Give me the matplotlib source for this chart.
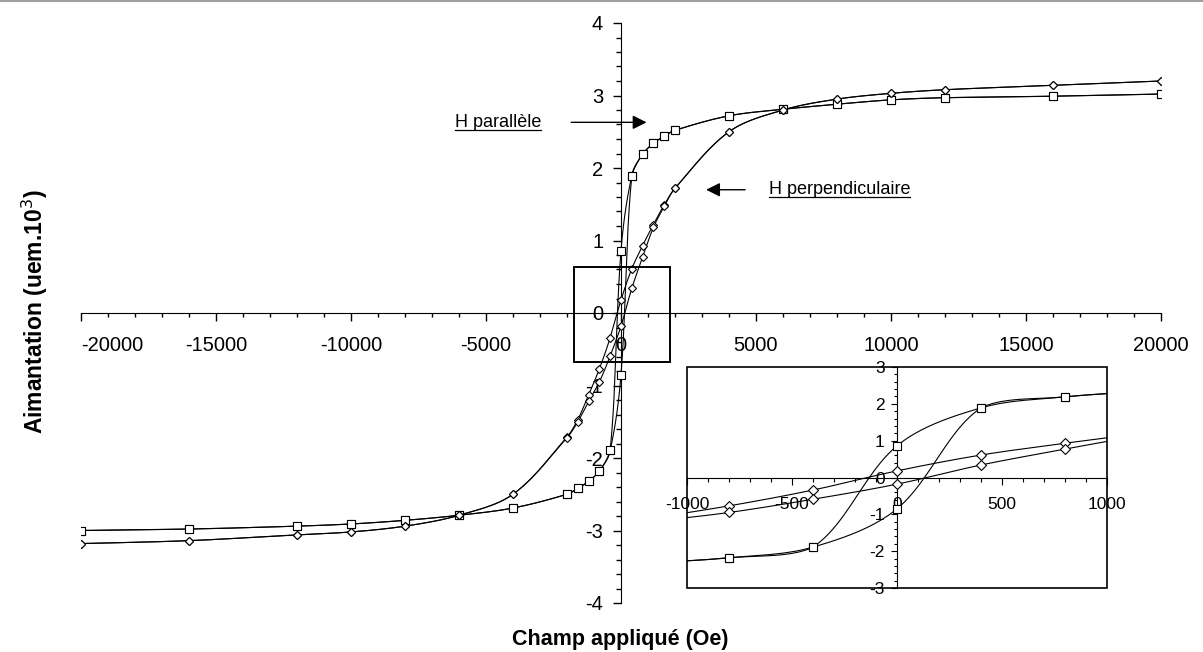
import matplotlib
matplotlib.use("Agg")
import matplotlib.pyplot as plt
from matplotlib.lines import Line2D
from matplotlib.patches import Rectangle
from matplotlib.ticker import MultipleLocator
import numpy as np

# applied field (Oe), descending branch then ascending branch
H_DESC = [20000, 16000, 12000, 10000, 8000, 6000, 4000, 2000, 1600, 1200, 800, 400, 0,
          -400, -800, -1200, -1600, -2000, -4000, -6000, -8000, -10000, -12000, -16000, -20000]
H_ASC = H_DESC[::-1]

# H parallele (squares)
PAR_DESC = [3.02, 2.99, 2.97, 2.94, 2.88, 2.81, 2.72, 2.52, 2.44, 2.34, 2.19, 1.89, 0.86,
            -1.89, -2.18, -2.32, -2.42, -2.50, -2.69, -2.79, -2.86, -2.91, -2.94, -2.98, -3.00]
PAR_ASC = [-3.00, -2.98, -2.94, -2.91, -2.86, -2.79, -2.69, -2.50, -2.42, -2.32, -2.18, -1.89, -0.85,
           1.89, 2.19, 2.34, 2.44, 2.52, 2.72, 2.81, 2.88, 2.94, 2.97, 2.99, 3.02]

# H perpendiculaire (diamonds)
PERP_DESC = [3.20, 3.14, 3.08, 3.03, 2.95, 2.80, 2.50, 1.72, 1.49, 1.22, 0.93, 0.61, 0.18,
             -0.34, -0.77, -1.13, -1.47, -1.71, -2.50, -2.79, -2.94, -3.02, -3.06, -3.14, -3.18]
PERP_ASC = [-3.18, -3.14, -3.06, -3.02, -2.94, -2.79, -2.50, -1.72, -1.50, -1.22, -0.95, -0.59, -0.18,
            0.34, 0.77, 1.18, 1.47, 1.72, 2.50, 2.80, 2.95, 3.03, 3.08, 3.14, 3.20]

MAIN_XTICKS = [-20000, -15000, -10000, -5000, 0, 5000, 10000, 15000, 20000]
INSET_XTICKS = [-1000, -500, 0, 500, 1000]

FONT = "Liberation Sans"
plt.rcParams["font.family"] = [FONT, "DejaVu Sans"]

W, H = 1203, 652


def px_box(left, top, right, bottom):
    return [left / W, 1 - bottom / H, (right - left) / W, (bottom - top) / H]


def excel_smooth(ax, xs, ys, n=24):
    """Bezier smoothing in screen space, tangents weighted by segment length
    and clamped so a segment never overshoots its end points."""
    pts = ax.transData.transform(np.column_stack([xs, ys]))
    npts = len(pts)
    tang = np.zeros_like(pts)
    for i in range(npts):
        p0 = pts[max(i - 1, 0)]
        p2 = pts[min(i + 1, npts - 1)]
        tang[i] = p2 - p0
    out = [pts[0]]
    t = np.linspace(0, 1, n)[1:, None]
    for i in range(npts - 1):
        p1, p2 = pts[i], pts[i + 1]
        d12 = np.hypot(*(p2 - p1))
        d01 = np.hypot(*(p1 - pts[max(i - 1, 0)])) if i > 0 else d12
        d23 = np.hypot(*(pts[min(i + 2, npts - 1)] - p2)) if i + 2 < npts else d12
        c1 = p1 + tang[i] * d12 / (d01 + d12 + 1e-9) / 3
        c2 = p2 - tang[i + 1] * d12 / (d12 + d23 + 1e-9) / 3
        lo, hi = np.minimum(p1, p2), np.maximum(p1, p2)
        c1 = np.clip(c1, lo, hi)
        c2 = np.clip(c2, lo, hi)
        seg = (1 - t) ** 3 * p1 + 3 * (1 - t) ** 2 * t * c1 + 3 * (1 - t) * t ** 2 * c2 + t ** 3 * p2
        out.extend(seg)
    return ax.transData.inverted().transform(np.array(out))


def draw_series(ax, xs, ys, marker, ms):
    curve = excel_smooth(ax, xs, ys)
    ax.plot(curve[:, 0], curve[:, 1], color="black", lw=0.8, zorder=3)
    ax.plot(xs, ys, ls="none", marker=marker, ms=ms, mfc="white", mec="black",
            mew=0.8, zorder=4)


fig = plt.figure(figsize=(W / 100, H / 100), dpi=100)

# ---- main chart ----
ax = fig.add_axes(px_box(81, 23, 1161, 603))
ax.set_xlim(-20000, 20000)
ax.set_ylim(-4, 4)
for side in ["top", "right"]:
    ax.spines[side].set_visible(False)
ax.spines["left"].set_position(("data", 0))
ax.spines["bottom"].set_position(("data", 0))
ax.xaxis.set_minor_locator(MultipleLocator(1000))
ax.yaxis.set_minor_locator(MultipleLocator(0.2))
ax.tick_params(axis="x", which="major", direction="out", length=5.8, width=1, pad=11, labelsize=14.5)
ax.tick_params(axis="x", which="minor", direction="out", length=3.2, width=1)
ax.tick_params(axis="y", which="major", direction="out", length=5.8, width=1, pad=7, labelsize=14.5)
ax.tick_params(axis="y", which="minor", direction="out", length=3.6, width=1)
ax.set_xticks(MAIN_XTICKS)
ax.set_xticklabels([str(v) for v in MAIN_XTICKS])
ax.get_xticklabels()[0].set_horizontalalignment("left")
ax.set_yticks(range(-4, 5))
ax.set_yticklabels([str(v) for v in range(-4, 5)])
ax.set_xlim(-20000, 20000)
ax.set_ylim(-4, 4)
ax.patch.set_alpha(0)

draw_series(ax, H_DESC, PAR_DESC, "s", 5.2)
draw_series(ax, H_ASC, PAR_ASC, "s", 5.2)
draw_series(ax, H_DESC, PERP_DESC, "D", 4.4)
draw_series(ax, H_ASC, PERP_ASC, "D", 4.4)

# zoom box around the origin
ax.add_patch(Rectangle((-1750, -0.68), 3580, 1.32, fill=False, ec="black", lw=1.4, zorder=5))

# annotations
ax.annotate("", xy=(1050, 2.63), xytext=(-1950, 2.63),
            arrowprops=dict(arrowstyle="-|>", color="black", lw=1, mutation_scale=21))
ax.annotate("", xy=(3050, 1.70), xytext=(4700, 1.70),
            arrowprops=dict(arrowstyle="-|>", color="black", lw=1, mutation_scale=21))
t_par = ax.text(-2950, 2.63, "H parallèle", ha="right", va="center", fontsize=13)
t_perp = ax.text(5480, 1.70, "H perpendiculaire", ha="left", va="center", fontsize=13)

fig.text(620 / W, 1 - 640 / H, "Champ appliqué (Oe)", ha="center", va="center",
         fontsize=15.5, fontweight="bold")
fig.text(35 / W, 1 - 312 / H, "Aimantation (uem.10$^{3}$)", ha="center", va="center",
         rotation=90, fontsize=16.5, fontweight="bold")

# ---- inset ----
ins = fig.add_axes(px_box(687, 367, 1107, 588))
ins.set_facecolor("white")
for side in ["top", "right"]:
    ins.spines[side].set_visible(False)
ins.spines["left"].set_position(("data", 0))
ins.spines["bottom"].set_position(("data", 0))
ins.xaxis.set_minor_locator(MultipleLocator(100))
ins.yaxis.set_minor_locator(MultipleLocator(0.2))
ins.tick_params(axis="x", which="major", direction="out", length=5, width=0.8, pad=9, labelsize=12.5)
ins.tick_params(axis="x", which="minor", direction="out", length=3, width=0.8)
ins.tick_params(axis="y", which="major", direction="out", length=4, width=0.8, pad=5, labelsize=12.5)
ins.tick_params(axis="y", which="minor", direction="out", length=2.5, width=0.8)
ins.set_xticks(INSET_XTICKS)
ins.set_xticklabels([str(v) for v in INSET_XTICKS])
ins.set_yticks(range(-3, 4))
ins.set_yticklabels([str(v) for v in range(-3, 4)])
ins.set_xlim(-1000, 1000)
ins.set_ylim(-3, 3)
ins.add_patch(Rectangle((0, 0), 1, 1, transform=ins.transAxes, fill=False, ec="black",
                        lw=1.2, clip_on=False, zorder=6))

draw_series(ins, H_DESC, PAR_DESC, "s", 6)
draw_series(ins, H_ASC, PAR_ASC, "s", 6)
draw_series(ins, H_DESC, PERP_DESC, "D", 5.5)
draw_series(ins, H_ASC, PERP_ASC, "D", 5.5)

# underline annotation texts
fig.canvas.draw()
renderer = fig.canvas.get_renderer()
for t in (t_par, t_perp):
    bb = t.get_window_extent(renderer)
    y = bb.y0 + 1
    fig.add_artist(Line2D([bb.x0 / W, bb.x1 / W], [y / H, y / H], color="black", lw=0.9))

# thin gray border at the top of the image
fig.add_artist(Line2D([0, 1], [1 - 1 / H, 1 - 1 / H], color="#a0a0a0", lw=1.5))

fig.savefig("out.png", dpi=100)
